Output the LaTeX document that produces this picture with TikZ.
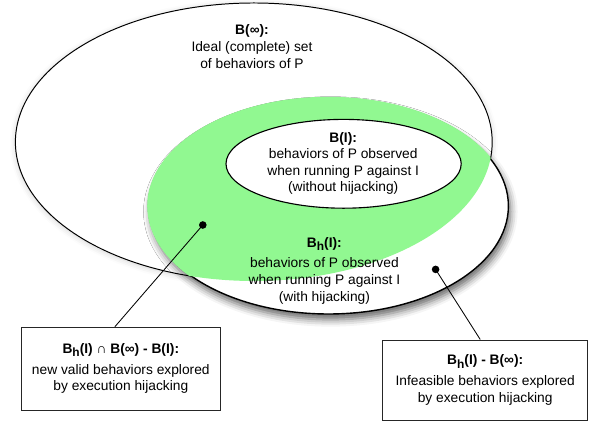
\documentclass[tikz,border=0pt]{standalone}
\usepackage{fontspec}
\setmainfont{Liberation Sans}
\usepackage{tikz}
\usetikzlibrary{shadows.blur}
\definecolor{validgreen}{RGB}{145,248,145}
\newcommand{\hsub}{\raisebox{-0.45ex}{\fontsize{8.5}{8.5}\selectfont h}}

\begin{document}
\begin{tikzpicture}[every node/.style={font=\fontsize{9.8}{11.8}\selectfont,align=center},
    blackdot/.style={circle,fill=black,inner sep=0pt,minimum size=0.19cm},
    notebox/.style={draw=black!85,line width=0.7pt,inner sep=2pt}]
  \useasboundingbox (0,0) rectangle (14.725,10.575);
  % the three sets
  \draw[line width=0.7pt,fill=white,blur shadow={shadow xshift=0pt,shadow yshift=-1pt,
      shadow opacity=18,shadow blur radius=4pt}] (6.345,7.025) ellipse (5.96 and 3.475);
  \draw[line width=1pt,fill=white,blur shadow={shadow xshift=1.5pt,shadow yshift=-4pt,
      shadow opacity=60,shadow blur radius=5pt}] (8.21,5.425) ellipse (4.50 and 2.70);
  \begin{scope}
    \clip (8.21,5.425) ellipse (4.53 and 2.73);
    \fill[validgreen] (6.345,7.025) ellipse (5.96 and 3.475);
  \end{scope}
  \draw[line width=0.8pt,fill=white] (8.59,6.48) ellipse (2.94 and 1.11);

  \node (binf) at (6.30,9.41) {\textbf{B(∞):}\\Ideal (complete) set\\of behaviors of P};
  \node (bi) at (8.58,6.49) {\textbf{B(I):}\\behaviors of P observed\\when running P
    against I\\(without hijacking)};
  \node (bh) at (8.11,3.81) {\textbf{B\hsub(I):}\\[3pt]behaviors of P observed\\when
    running P against I\\(with hijacking)};

  \node[blackdot] (d1) at (5.07,4.95) {}; \node[blackdot] (d2) at (10.89,3.84) {};
  \node[notebox,minimum width=4.99cm,minimum height=2.07cm] (c1) at (3.02,1.36)
    {\textbf{B\hsub(I) ∩ B(∞) - B(I):}\\[3pt]new valid behaviors explored\\by
    execution hijacking};
  \node[notebox,minimum width=5.12cm,minimum height=2.0cm] (c2) at (12.13,1.075)
    {\textbf{B\hsub(I) - B(∞):}\\[3pt]Infeasible behaviors explored\\by
    execution hijacking};
  \draw[line width=0.6pt] (d1.center) -- (c1.98);
  \draw[line width=0.6pt] (d2.center) -- (c2.97);
\end{tikzpicture}
\end{document}
